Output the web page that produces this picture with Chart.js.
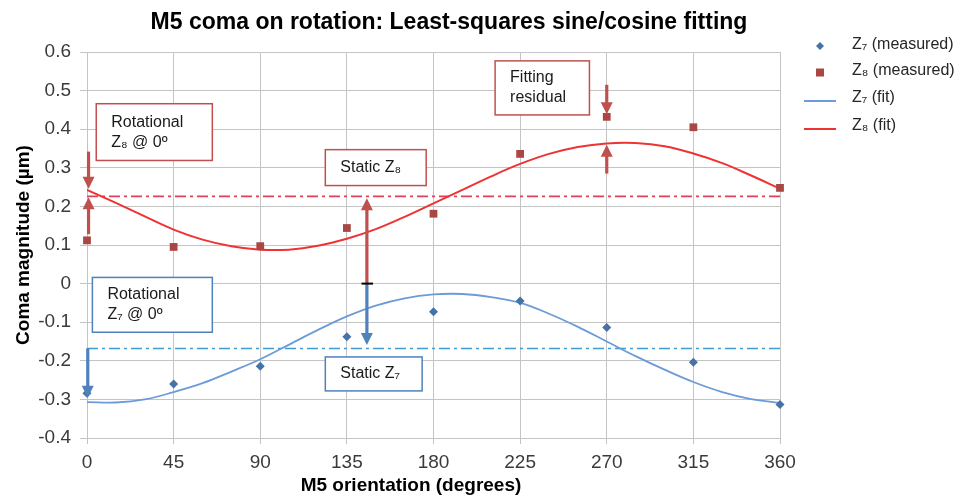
<!DOCTYPE html>
<html>
<head>
<meta charset="utf-8">
<script src="https://cdn.jsdelivr.net/npm/chart.js@4.4.1/dist/chart.umd.min.js"></script>
<style>
    html, body { margin: 0; padding: 0; background: #fff; }
</style>
</head>
<body>
<canvas id="coma-chart" width="969" height="496"></canvas>
<script>
// measured coma at each M5 orientation (degrees)
var angles = [0, 45, 90, 135, 180, 225, 270, 315, 360];
var z7Measured = [-0.284, -0.260, -0.214, -0.138, -0.073, -0.045, -0.114, -0.204, -0.313];
var z8Measured = [0.112, 0.095, 0.097, 0.144, 0.181, 0.336, 0.432, 0.405, 0.248];

// least-squares fit curves, read every 15 degrees
var fitAngles = [0, 15, 30, 45, 60, 75, 90, 105, 120, 135, 150, 165, 180,
                 195, 210, 225, 240, 255, 270, 285, 300, 315, 330, 345, 360];
var z7Fit = [-0.307, -0.308, -0.300, -0.281, -0.258, -0.228, -0.196, -0.158, -0.120, -0.085, -0.057, -0.038, -0.028,
             -0.027, -0.035, -0.050, -0.078, -0.112, -0.150, -0.188, -0.223, -0.255, -0.281, -0.299, -0.309];
var z8Fit = [0.243, 0.209, 0.174, 0.140, 0.114, 0.097, 0.088, 0.088, 0.098, 0.116, 0.141, 0.173, 0.208,
             0.243, 0.278, 0.310, 0.336, 0.354, 0.363, 0.364, 0.356, 0.337, 0.312, 0.280, 0.246];

// static (mean) terms
var staticZ7 = [-0.168, -0.168];
var staticZ8 = [0.226, 0.226];
var staticAngles = [0, 360];

var xTicks = [0, 45, 90, 135, 180, 225, 270, 315, 360];
var yTicks = [-0.4, -0.3, -0.2, -0.1, 0, 0.1, 0.2, 0.3, 0.4, 0.5, 0.6];
var yTickLabels = ['-0.4', '-0.3', '-0.2', '-0.1', '0', '0.1', '0.2', '0.3', '0.4', '0.5', '0.6'];

var RED_BOX = '#c0504d';
var BLUE_BOX = '#4f81bd';
var FONT = '"Liberation Sans", Arial, sans-serif';

// callout boxes, in data units
var noteBoxes = [
    { x0: 4.8, x1: 65.1, y0: 0.466, y1: 0.319, color: RED_BOX, lines: ['Rotational', 'Z\u2088 @ 0\u00ba'] },
    { x0: 123.8, x1: 176.2, y0: 0.347, y1: 0.254, color: RED_BOX, lines: ['Static Z\u2088'] },
    { x0: 212, x1: 261, y0: 0.577, y1: 0.437, color: RED_BOX, lines: ['Fitting', 'residual'] },
    { x0: 2.8, x1: 65.1, y0: 0.016, y1: -0.126, color: BLUE_BOX, lines: ['Rotational', 'Z\u2087 @ 0\u00ba'] },
    { x0: 123.8, x1: 174.1, y0: -0.190, y1: -0.278, color: BLUE_BOX, lines: ['Static Z\u2087'] }
];

// arrows: from (x, y0) to the tip at (x, y1)
var noteArrows = [
    { x: 0.8, y0: 0.342, y1: 0.246, color: RED_BOX },
    { x: 0.8, y0: 0.128, y1: 0.224, color: RED_BOX },
    { x: 145.4, y0: 0, y1: 0.221, color: RED_BOX },
    { x: 145.4, y0: 0, y1: -0.159, color: BLUE_BOX },
    { x: 0.4, y0: -0.168, y1: -0.296, color: BLUE_BOX },
    { x: 270, y0: 0.515, y1: 0.439, color: RED_BOX },
    { x: 270, y0: 0.285, y1: 0.360, color: RED_BOX }
];

var legendItems = [
    { text: 'Z\u2087 (measured)', kind: 'rectRot', color: '#4572a7' },
    { text: 'Z\u2088 (measured)', kind: 'rect', color: '#aa4643' },
    { text: 'Z\u2087 (fit)', kind: 'line', color: '#6d9bd8' },
    { text: 'Z\u2088 (fit)', kind: 'line', color: '#ee3333' }
];

function toPoints(xs, ys) {
    return xs.map(function (x, i) { return { x: x, y: ys[i] }; });
}

function drawArrow(ctx, x, ya, yb, color) {
    var dir = yb > ya ? 1 : -1;
    ctx.strokeStyle = color;
    ctx.fillStyle = color;
    ctx.lineWidth = 3.2;
    ctx.beginPath();
    ctx.moveTo(x, ya);
    ctx.lineTo(x, yb - dir * 9);
    ctx.stroke();
    ctx.beginPath();
    ctx.moveTo(x, yb);
    ctx.lineTo(x - 6, yb - dir * 12);
    ctx.lineTo(x + 6, yb - dir * 12);
    ctx.closePath();
    ctx.fill();
}

var annotations = {
    id: 'comaNotes',
    afterDraw: function (chart) {
        var ctx = chart.ctx;
        var xs = chart.scales.x, ys = chart.scales.y;
        ctx.save();

        // title and x-axis label
        ctx.fillStyle = '#000';
        ctx.font = 'bold 23px ' + FONT;
        ctx.textAlign = 'center';
        ctx.textBaseline = 'middle';
        ctx.fillText('M5 coma on rotation: Least-squares sine/cosine fitting', 449, 22.5);
        ctx.font = 'bold 19px ' + FONT;
        ctx.fillText('M5 orientation (degrees)', 411, 486);

        // boxes
        noteBoxes.forEach(function (b) {
            var l = xs.getPixelForValue(b.x0), r = xs.getPixelForValue(b.x1);
            var t = ys.getPixelForValue(b.y0), btm = ys.getPixelForValue(b.y1);
            ctx.fillStyle = '#fff';
            ctx.fillRect(l, t, r - l, btm - t);
            ctx.strokeStyle = b.color;
            ctx.lineWidth = 1.5;
            ctx.strokeRect(l, t, r - l, btm - t);
            ctx.fillStyle = '#1a1a1a';
            ctx.font = '16px ' + FONT;
            ctx.textAlign = 'left';
            ctx.textBaseline = 'middle';
            var mid = (t + btm) / 2;
            var first = mid - (b.lines.length - 1) * 10;
            b.lines.forEach(function (line, i) {
                ctx.fillText(line, l + 15, first + i * 20);
            });
        });

        // arrows
        noteArrows.forEach(function (a) {
            drawArrow(ctx, xs.getPixelForValue(a.x), ys.getPixelForValue(a.y0), ys.getPixelForValue(a.y1), a.color);
        });
        // black zero mark where the static arrows meet
        ctx.strokeStyle = '#000';
        ctx.lineWidth = 2;
        ctx.beginPath();
        ctx.moveTo(xs.getPixelForValue(142.6), ys.getPixelForValue(0));
        ctx.lineTo(xs.getPixelForValue(148.6), ys.getPixelForValue(0));
        ctx.stroke();

        // legend
        ctx.font = '16px ' + FONT;
        ctx.textAlign = 'left';
        ctx.textBaseline = 'middle';
        var rowY = [46, 72, 99, 127];
        legendItems.forEach(function (item, i) {
            var y = rowY[i];
            ctx.fillStyle = item.color;
            ctx.strokeStyle = item.color;
            if (item.kind === 'rectRot') {
                ctx.beginPath();
                ctx.moveTo(820, y - 4); ctx.lineTo(824, y); ctx.lineTo(820, y + 4); ctx.lineTo(816, y);
                ctx.closePath();
                ctx.fill();
            } else if (item.kind === 'rect') {
                ctx.fillRect(816, y - 3.5, 8, 8);
            } else {
                ctx.lineWidth = 2;
                ctx.beginPath();
                ctx.moveTo(804, y + 2);
                ctx.lineTo(836, y + 2);
                ctx.stroke();
            }
            ctx.fillStyle = '#262626';
            ctx.fillText(item.text, 852, y - 1);
        });

        ctx.restore();
    }
};

var ctx = document.getElementById('coma-chart');

var comaChart = new Chart(ctx, {
    type: 'scatter',
    data: {
        datasets: [
            {
                label: 'Z7 (measured)',
                data: toPoints(angles, z7Measured),
                pointStyle: 'rectRot',
                pointRadius: 4.5,
                backgroundColor: '#4572a7',
                borderColor: '#4572a7',
                borderWidth: 0,
                clip: false,
                order: 1
            },
            {
                label: 'Z8 (measured)',
                data: toPoints(angles, z8Measured),
                pointStyle: 'rect',
                pointRadius: 5.5,
                backgroundColor: '#aa4643',
                borderColor: '#aa4643',
                borderWidth: 0,
                clip: false,
                order: 1
            },
            {
                label: 'Z7 (fit)',
                data: toPoints(fitAngles, z7Fit),
                showLine: true,
                pointRadius: 0,
                borderColor: '#6d9bd8',
                borderWidth: 1.8,
                tension: 0.4,
                order: 2
            },
            {
                label: 'Z8 (fit)',
                data: toPoints(fitAngles, z8Fit),
                showLine: true,
                pointRadius: 0,
                borderColor: '#ee3333',
                borderWidth: 2,
                tension: 0.4,
                order: 2
            },
            {
                label: 'Static Z8',
                data: toPoints(staticAngles, staticZ8),
                showLine: true,
                pointRadius: 0,
                borderColor: '#e0405a',
                borderWidth: 1.6,
                borderDash: [11, 4, 3, 4],
                order: 3
            },
            {
                label: 'Static Z7',
                data: toPoints(staticAngles, staticZ7),
                showLine: true,
                pointRadius: 0,
                borderColor: '#3f9bd0',
                borderWidth: 1.6,
                borderDash: [11, 4, 3, 4],
                order: 3
            }
        ]
    },
    options: {
        responsive: false,
        animation: false,
        devicePixelRatio: 1,
        layout: { padding: { top: 52, right: 189, bottom: 0, left: 0 } },
        plugins: {
            legend: { display: false },
            title: { display: false },
            tooltip: { enabled: false }
        },
        scales: {
            x: {
                type: 'linear',
                min: 0,
                max: 360,
                afterBuildTicks: function (scale) {
                    scale.ticks = xTicks.map(function (v) { return { value: v }; });
                },
                afterFit: function (scale) { scale.height = 58; },
                grid: { color: '#c4c4c4', tickLength: 6 },
                border: { color: '#c4c4c4' },
                ticks: {
                    color: '#3a3a3a',
                    font: { family: FONT, size: 19 },
                    padding: 7,
                    maxRotation: 0
                }
            },
            y: {
                min: -0.4,
                max: 0.6,
                afterBuildTicks: function (scale) {
                    scale.ticks = yTicks.map(function (v) { return { value: v }; });
                },
                afterFit: function (scale) { scale.width = 87; },
                grid: { color: '#c4c4c4', tickLength: 7 },
                border: { color: '#c4c4c4' },
                ticks: {
                    color: '#3a3a3a',
                    font: { family: FONT, size: 19 },
                    padding: 9,
                    callback: function (value, index) { return yTickLabels[index]; }
                },
                title: {
                    display: true,
                    text: 'Coma magnitude (\u00b5m)',
                    color: '#000',
                    font: { family: FONT, size: 19, weight: 'bold' },
                    padding: { top: 12, bottom: 0 }
                }
            }
        }
    },
    plugins: [annotations]
});
</script>
</body>
</html>
